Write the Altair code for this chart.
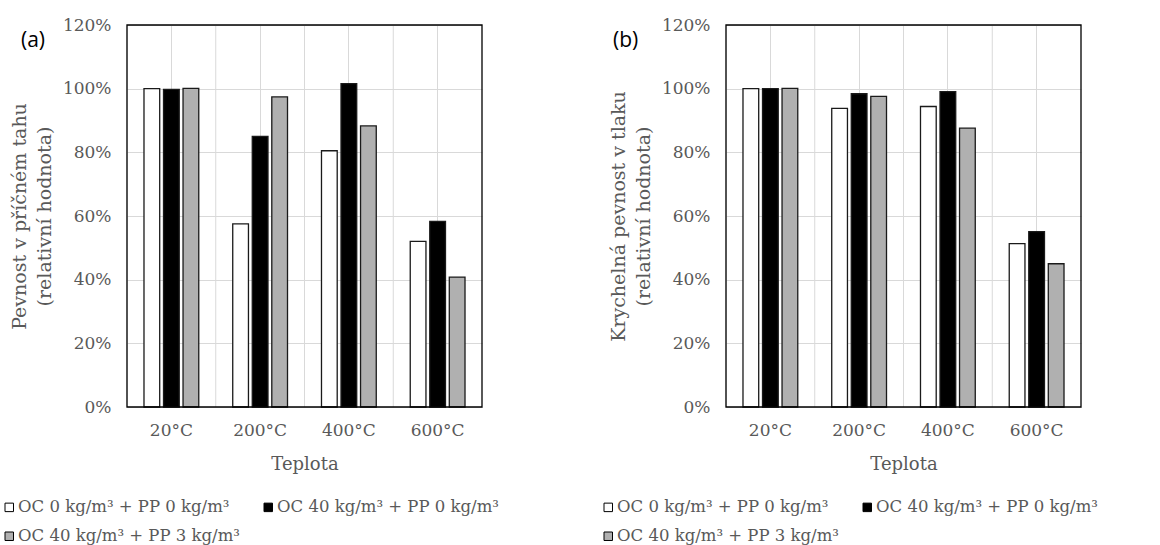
import altair as alt
import pandas as pd

# Temperatures on the category axis
temperatures = ["20°C", "200°C", "400°C", "600°C"]

# Mixture series (fibre dosages)
series = [
    "OC 0 kg/m³ + PP 0 kg/m³",
    "OC 40 kg/m³ + PP 0 kg/m³",
    "OC 40 kg/m³ + PP 3 kg/m³",
]
series_colors = ["#ffffff", "#000000", "#b0b0b0"]

# Relative splitting tensile strength [%]
tensile_ref = [100.0, 57.5, 80.5, 52.0]
tensile_oc40 = [99.8, 85.0, 101.6, 58.3]
tensile_oc40_pp3 = [100.1, 97.4, 88.3, 40.8]

# Relative cube compressive strength [%]
compress_ref = [100.0, 93.8, 94.4, 51.3]
compress_oc40 = [100.0, 98.4, 99.1, 55.1]
compress_oc40_pp3 = [100.1, 97.6, 87.6, 45.0]

y_ticks = [0, 20, 40, 60, 80, 100, 120]

SERIF = "DejaVu Serif"
GREY_TEXT = "#595959"
GRID = "#d9d9d9"


def long_table(values_per_series):
    rows = []
    for name, vals in zip(series, values_per_series):
        for t, v in zip(temperatures, vals):
            rows.append({"Teplota": t, "Směs": name, "Hodnota": v})
    return pd.DataFrame(rows)


def panel(df, letter, letter_x, y_title):
    x_enc = alt.X(
        "Teplota:N",
        sort=temperatures,
        scale=alt.Scale(paddingInner=0, paddingOuter=0),
        axis=alt.Axis(
            title="Teplota",
            titleFontSize=18,
            grid=True,
            gridColor=GRID,
            gridWidth=1,
            bandPosition=0.5,
            ticks=False,
            domain=False,
            labelAngle=0,
            labelAlign="center",
            labelPadding=15,
            titlePadding=17,
        ),
    )
    y_scale = alt.Scale(domain=[0, 120], nice=False)

    bars = (
        alt.Chart(df)
        .mark_bar(stroke="#1a1a1a", strokeWidth=1.3)
        .encode(
            x=x_enc,
            xOffset=alt.XOffset(
                "Směs:N",
                sort=series,
                scale=alt.Scale(paddingInner=0.195, paddingOuter=0.87),
            ),
            y=alt.Y(
                "Hodnota:Q",
                scale=y_scale,
                axis=alt.Axis(
                    values=y_ticks,
                    labelExpr="datum.value + '%'",
                    title=y_title,
                    titleFontSize=19,
                    titleLineHeight=25,
                    titlePadding=8,
                    grid=True,
                    gridColor=GRID,
                    ticks=False,
                    domain=False,
                    labelPadding=16,
                ),
            ),
            color=alt.Color(
                "Směs:N",
                sort=series,
                scale=alt.Scale(domain=series, range=series_colors),
                legend=alt.Legend(
                    title=None,
                    orient="none",
                    legendX=-126,
                    legendY=474,
                    direction="horizontal",
                    columns=2,
                    columnPadding=20,
                    rowPadding=12,
                    symbolType="square",
                    symbolSize=72,
                    symbolStrokeColor="#000000",
                    symbolStrokeWidth=1,
                    labelOffset=0.5,
                    labelFont=SERIF,
                    labelFontSize=16.5,
                    labelColor=GREY_TEXT,
                    labelLimit=400,
                ),
            ),
        )
    )

    # vertical gridlines on the boundaries between temperature groups
    boundary_lines = (
        alt.Chart(pd.DataFrame({"Teplota": temperatures}))
        .mark_rule(color=GRID, strokeWidth=1)
        .encode(x=alt.X("Teplota:N", sort=temperatures, bandPosition=0))
    )

    # plot-area frame drawn above the gridlines
    frame = (
        alt.Chart(pd.DataFrame({"t": [letter]}))
        .mark_rect(filled=False, stroke="#000000", strokeWidth=1.3)
        .encode(
            x=alt.value(0), x2=alt.value("width"),
            y=alt.value(0), y2=alt.value("height"),
        )
    )

    tag = (
        alt.Chart(pd.DataFrame({"t": [letter]}))
        .mark_text(font="Open Sans", fontSize=21, color="#000000", align="left", baseline="middle")
        .encode(text="t:N", x=alt.value(letter_x), y=alt.value(16))
    )

    return alt.layer(bars, boundary_lines, frame, tag).properties(width=355, height=382)


left = panel(
    long_table([tensile_ref, tensile_oc40, tensile_oc40_pp3]),
    "(a)", -106,
    ["Pevnost v příčném tahu", "(relativní hodnota)"],
)
right = panel(
    long_table([compress_ref, compress_oc40, compress_oc40_pp3]),
    "(b)", -113,
    ["Krychelná pevnost v tlaku", "(relativní hodnota)"],
)

chart = (
    alt.hconcat(left, right, spacing=101)
    .resolve_scale(color="independent")
    .properties(padding={"left": 1, "top": 16, "right": 5, "bottom": 5}, background="#ffffff")
    .configure_view(stroke=None)
    .configure_axis(
        labelFont=SERIF,
        labelFontSize=17,
        labelColor=GREY_TEXT,
        titleFont=SERIF,
        titleFontSize=16.5,
        titleColor=GREY_TEXT,
        titleFontWeight="normal",
    )
)

chart.save("out.html", embed_options={"renderer": "svg", "actions": False})
